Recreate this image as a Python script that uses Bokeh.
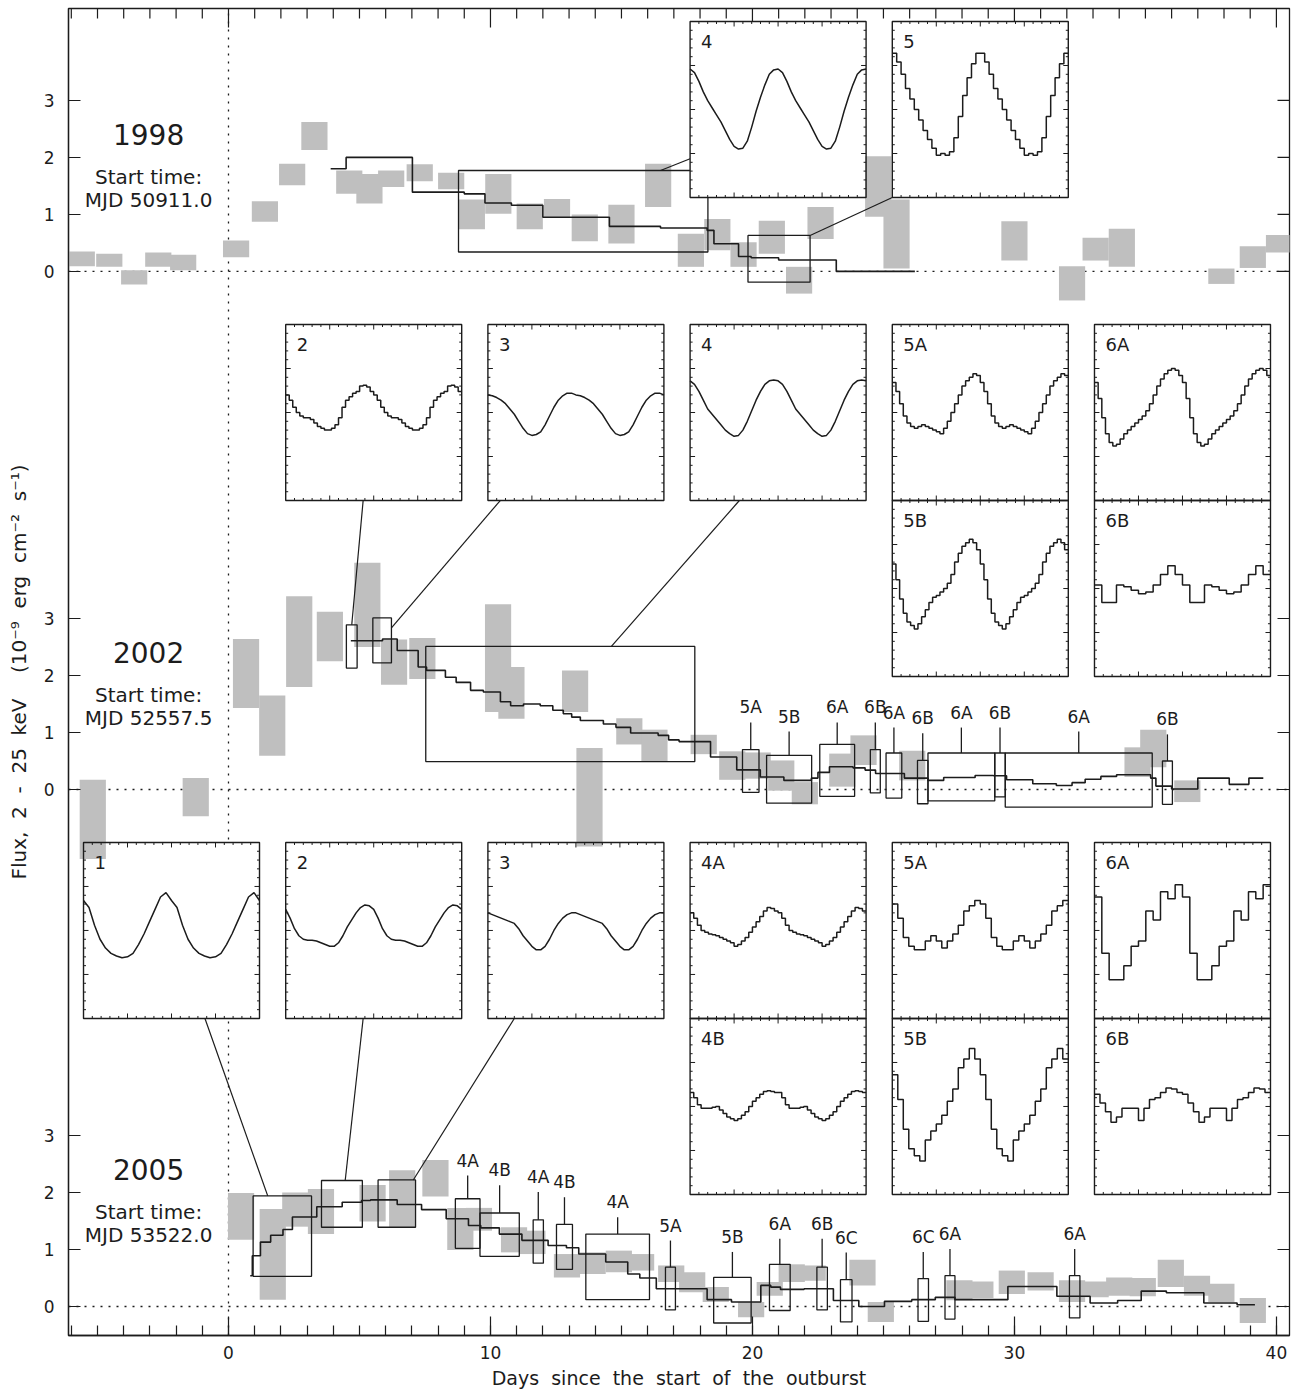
from bokeh.plotting import figure
from bokeh.models import Range1d, FixedTicker, CustomJSTickFormatter
from bokeh.embed import file_html
from bokeh.resources import INLINE
from bokeh.core.properties import value

# ---------------------------------------------------------------- data
year_labels = ["1998", "2002", "2005"]
start_mjd = ["MJD 50911.0", "MJD 52557.5", "MJD 53522.0"]
x_major_ticks = [0, 10, 20, 30, 40]
y_tick_labels = ["0", "1", "2", "3"]

# grey flux measurements (centre day, lower flux, upper flux)
bar98_t = [-5.6, -4.55, -3.6, -2.68, -1.73, 0.29, 1.39, 2.43, 3.28, 4.61, 5.38, 6.21, 7.3, 8.5, 9.29,
           10.3, 11.5, 12.54, 13.6, 15.0, 16.4, 17.65, 18.66, 19.66, 20.74, 21.78, 22.6, 24.8, 25.5,
           30.0, 32.2, 33.1, 34.1, 37.9, 39.1, 40.1]
bar98_lo = [0.09, 0.08, -0.23, 0.08, 0.02, 0.25, 0.87, 1.51, 2.13, 1.36, 1.19, 1.48, 1.58, 1.44, 0.74,
            1.01, 0.74, 0.95, 0.53, 0.49, 1.13, 0.08, 0.37, 0.08, 0.31, -0.39, 0.57, 0.96, 0.05,
            0.19, -0.51, 0.19, 0.08, -0.22, 0.06, 0.33]
bar98_hi = [0.35, 0.31, 0.02, 0.33, 0.29, 0.54, 1.23, 1.89, 2.62, 1.77, 1.71, 1.77, 1.88, 1.73, 1.26,
            1.71, 1.19, 1.27, 1.00, 1.17, 1.89, 0.66, 0.92, 0.51, 0.89, 0.08, 1.13, 2.02, 1.26,
            0.88, 0.09, 0.59, 0.75, 0.05, 0.44, 0.64]

bar02_t = [-5.18, -1.25, 0.67, 1.67, 2.7, 3.87, 5.3, 6.32, 7.4, 10.29, 10.8, 13.23, 13.78, 15.3, 16.26,
           18.14, 19.23, 20.2, 21.1, 22.0, 23.43, 24.24, 26.1, 34.7, 35.3, 36.6]
bar02_lo = [-1.22, -0.47, 1.43, 0.59, 1.80, 2.25, 2.50, 1.84, 1.94, 1.36, 1.24, 1.36, -1.0, 0.79, 0.50,
            0.62, 0.17, 0.19, -0.02, -0.26, 0.05, 0.43, 0.16, 0.22, 0.39, -0.22]
bar02_hi = [0.17, 0.20, 2.64, 1.65, 3.39, 3.12, 3.98, 2.63, 2.66, 3.25, 2.15, 2.09, 0.73, 1.25, 1.05,
            0.96, 0.67, 0.65, 0.51, 0.13, 0.63, 0.95, 0.68, 0.74, 1.05, 0.16]

bar05_t = [0.48, 1.69, 2.55, 3.53, 5.5, 6.63, 7.9, 8.85, 9.56, 10.9, 11.6, 12.92, 13.9, 14.9, 15.75,
           16.9, 17.7, 18.6, 19.95, 20.66, 21.5, 22.3, 24.2, 24.9, 27.9, 28.7, 29.9, 31.0, 32.2, 33.1,
           34.0, 34.9, 35.97, 36.97, 37.9, 39.1]
bar05_lo = [1.17, 0.12, 1.40, 1.27, 1.49, 1.39, 1.93, 0.99, 1.33, 0.95, 0.92, 0.51, 0.57, 0.60, 0.63,
            0.43, 0.25, 0.08, -0.19, 0.19, 0.43, 0.45, 0.37, -0.27, 0.11, 0.15, 0.22, 0.28, 0.08, 0.16,
            0.19, 0.18, 0.34, 0.19, 0.08, -0.29]
bar05_hi = [1.99, 1.71, 2.00, 2.06, 2.13, 2.39, 2.57, 1.73, 1.73, 1.39, 1.33, 0.92, 0.95, 0.98, 0.92,
            0.72, 0.60, 0.34, 0.08, 0.43, 0.74, 0.72, 0.82, 0.08, 0.46, 0.44, 0.63, 0.60, 0.46, 0.44,
            0.51, 0.50, 0.82, 0.54, 0.40, 0.15]

# black step curves (segment start day, flux) and end day
step98_t = [3.9, 4.49, 7.02, 9.0, 9.79, 10.8, 12.0, 14.54, 16.49, 18.27, 18.53, 19.47, 19.95, 21.0, 23.2]
step98_f = [1.80, 2.00, 1.39, 1.36, 1.20, 1.16, 0.95, 0.79, 0.76, 0.72, 0.485, 0.26, 0.24, 0.20, 0.0]
step98_end = 26.2

step02_t = [4.67, 5.88, 6.44, 7.24, 7.56, 8.28, 8.69, 9.24, 9.73, 10.38, 10.77, 11.26, 11.9, 12.38,
            12.78, 13.1, 13.43, 14.31, 14.79, 15.35, 16.4, 16.8, 17.2, 18.4, 19.4, 20.3, 21.2, 22.25,
            22.5, 22.94, 23.84, 24.3, 24.7, 25.8, 26.7, 27.3, 28.5, 29.2, 29.7, 30.7, 31.6, 32.2, 32.7,
            33.3, 33.9, 35.2, 35.4, 36.0, 37.0, 38.2, 38.95]
step02_f = [2.61, 2.64, 2.44, 2.15, 2.09, 1.97, 1.88, 1.74, 1.71, 1.54, 1.47, 1.50, 1.47, 1.39,
            1.33, 1.27, 1.21, 1.15, 1.09, 0.99, 0.95, 0.87, 0.84, 0.57, 0.345, 0.22, 0.16, 0.20,
            0.30, 0.40, 0.38, 0.34, 0.28, 0.20, 0.16, 0.21, 0.245, 0.24, 0.17, 0.10, 0.07, 0.12, 0.18,
            0.23, 0.26, 0.20, 0.06, 0.01, 0.20, 0.09, 0.20]
step02_end = 39.5

step05_t = [0.83, 0.91, 1.22, 1.61, 2.08, 2.44, 3.37, 4.34, 5.08, 5.42, 6.44, 7.37, 8.31, 9.16, 9.63,
            10.34, 11.2, 12.2, 12.9, 13.37, 14.4, 15.24, 15.7, 16.33, 18.27, 19.2, 20.32, 20.7, 21.07,
            21.97, 23.09, 24.06, 25.04, 26.08, 26.98, 27.73, 29.75, 31.62, 32.89, 33.94, 34.84, 35.8,
            37.23, 38.5]
step05_f = [0.54, 0.89, 1.13, 1.25, 1.35, 1.57, 1.75, 1.83, 1.86, 1.87, 1.79, 1.70, 1.54, 1.42, 1.38,
            1.27, 1.16, 1.07, 1.03, 0.92, 0.78, 0.57, 0.50, 0.31, 0.12, 0.08, 0.37, 0.34, 0.30,
            0.31, 0.105, 0.0, 0.09, 0.12, 0.16, 0.12, 0.35, 0.18, 0.06, 0.105, 0.27, 0.24,
            0.06, 0.03]
step05_end = 39.18

# selected intervals shown as open boxes (start, end, flux low, flux high)
sel98 = [(8.78, 18.3, 0.34, 1.77), (19.83, 22.2, -0.19, 0.63)]
sel02 = [(4.5, 4.91, 2.13, 2.89), (5.51, 6.22, 2.22, 3.01), (7.53, 17.8, 0.49, 2.51)]
sel05 = [(0.94, 3.17, 0.53, 1.94), (3.55, 5.11, 1.39, 2.21), (5.71, 7.14, 1.39, 2.22)]

lab02_t0 = [19.62, 20.54, 22.57, 24.5, 25.1, 26.3, 26.7, 29.25, 29.65, 35.65]
lab02_t1 = [20.25, 22.26, 23.9, 24.88, 25.7, 26.7, 29.25, 29.65, 35.26, 36.03]
lab02_lo = [-0.05, -0.24, -0.12, -0.06, -0.15, -0.25, -0.20, -0.13, -0.31, -0.26]
lab02_hi = [0.70, 0.60, 0.79, 0.70, 0.64, 0.51, 0.64, 0.64, 0.64, 0.50]
lab02_text = ["5A", "5B", "6A", "6B", "6A", "6B", "6A", "6B", "6A", "6B"]
lab02_y = [1.44, 1.28, 1.44, 1.44, 1.35, 1.25, 1.35, 1.35, 1.28, 1.23]

lab05_t0 = [8.66, 9.6, 11.63, 12.52, 13.64, 16.68, 18.52, 20.65, 22.46, 23.36, 26.32, 27.35, 32.1]
lab05_t1 = [9.6, 11.1, 12.02, 13.13, 16.07, 17.06, 19.95, 21.44, 22.86, 23.8, 26.72, 27.73, 32.5]
lab05_lo = [1.02, 0.88, 0.76, 0.65, 0.12, -0.06, -0.29, -0.07, -0.06, -0.27, -0.26, -0.22, -0.20]
lab05_hi = [1.89, 1.64, 1.52, 1.44, 1.27, 0.69, 0.51, 0.74, 0.69, 0.47, 0.49, 0.54, 0.54]
lab05_text = ["4A", "4B", "4A", "4B", "4A", "5A", "5B", "6A", "6B", "6C", "6C", "6A", "6A"]
lab05_y = [2.56, 2.39, 2.27, 2.18, 1.83, 1.42, 1.22, 1.45, 1.45, 1.21, 1.22, 1.27, 1.27]

# pulse profiles, one cycle each (relative intensity, 0 = inset bottom, 1 = inset top)
P98_4 = [0.73, 0.71, 0.66, 0.60, 0.55, 0.51, 0.47, 0.43, 0.38, 0.33, 0.29, 0.275, 0.28, 0.32, 0.40,
         0.49, 0.57, 0.64, 0.70, 0.725]
P98_5 = [0.82, 0.77, 0.70, 0.62, 0.56, 0.50, 0.44, 0.38, 0.33, 0.28, 0.24, 0.25, 0.24, 0.26, 0.34,
         0.46, 0.58, 0.68, 0.76, 0.82]
P02_2 = [0.60, 0.57, 0.53, 0.50, 0.48, 0.47, 0.47, 0.46, 0.44, 0.42, 0.41, 0.40, 0.40, 0.41, 0.43,
         0.47, 0.53, 0.57, 0.59, 0.61, 0.62, 0.65, 0.655, 0.645, 0.62]
P02_3 = [0.60, 0.595, 0.585, 0.57, 0.55, 0.52, 0.49, 0.45, 0.41, 0.38, 0.37, 0.375, 0.39, 0.43, 0.48,
         0.53, 0.57, 0.595, 0.61, 0.61]
P02_4 = [0.68, 0.66, 0.62, 0.57, 0.52, 0.49, 0.46, 0.43, 0.40, 0.38, 0.365, 0.37, 0.40, 0.45, 0.51,
         0.57, 0.62, 0.66, 0.68, 0.685]
P02_5A = [0.67, 0.62, 0.55, 0.48, 0.44, 0.42, 0.41, 0.42, 0.43, 0.42, 0.41, 0.40, 0.39, 0.38, 0.41,
          0.45, 0.50, 0.55, 0.60, 0.65, 0.68, 0.70, 0.72, 0.71]
P02_6A = [0.67, 0.58, 0.47, 0.38, 0.33, 0.31, 0.32, 0.35, 0.38, 0.40, 0.42, 0.44, 0.46, 0.48, 0.51,
          0.55, 0.60, 0.65, 0.69, 0.72, 0.74, 0.75, 0.74, 0.71]
P02_5B = [0.64, 0.55, 0.44, 0.36, 0.31, 0.29, 0.27, 0.30, 0.34, 0.38, 0.42, 0.45, 0.46, 0.48, 0.50,
          0.53, 0.58, 0.65, 0.70, 0.74, 0.76, 0.78, 0.76, 0.72]
P02_6B = [0.52, 0.42, 0.42, 0.52, 0.51, 0.49, 0.47, 0.48, 0.52, 0.58, 0.63, 0.58]
P05_1 = [0.67, 0.63, 0.53, 0.45, 0.40, 0.37, 0.355, 0.345, 0.35, 0.37, 0.42, 0.48, 0.55, 0.62, 0.69, 0.715]
P05_2 = [0.62, 0.57, 0.51, 0.47, 0.45, 0.445, 0.445, 0.44, 0.43, 0.42, 0.41, 0.41, 0.43, 0.47, 0.52,
         0.56, 0.60, 0.63, 0.645, 0.64]
P05_3 = [0.60, 0.59, 0.58, 0.57, 0.56, 0.55, 0.54, 0.51, 0.47, 0.44, 0.41, 0.39, 0.39, 0.41, 0.45,
         0.50, 0.54, 0.57, 0.59, 0.60]
P05_4A = [0.60, 0.57, 0.53, 0.50, 0.49, 0.48, 0.475, 0.47, 0.46, 0.45, 0.44, 0.43, 0.41, 0.42, 0.44,
          0.46, 0.49, 0.52, 0.55, 0.58, 0.61, 0.63, 0.625, 0.61]
P05_4B = [0.58, 0.55, 0.51, 0.49, 0.49, 0.49, 0.495, 0.50, 0.48, 0.46, 0.44, 0.43, 0.42, 0.43, 0.45,
          0.47, 0.50, 0.53, 0.55, 0.57, 0.585, 0.59, 0.585, 0.58]
P05_5A = [0.65, 0.57, 0.46, 0.41, 0.39, 0.39, 0.44, 0.47, 0.44, 0.40, 0.44, 0.48, 0.53, 0.61, 0.64, 0.67]
P05_6A = [0.69, 0.37, 0.22, 0.22, 0.30, 0.41, 0.44, 0.61, 0.56, 0.72, 0.68, 0.76]
P05_5B = [0.68, 0.54, 0.37, 0.26, 0.22, 0.19, 0.31, 0.36, 0.40, 0.45, 0.53, 0.60, 0.72, 0.77, 0.83, 0.77]
P05_6B = [0.57, 0.52, 0.47, 0.41, 0.44, 0.49, 0.49, 0.49, 0.42, 0.49, 0.54, 0.55, 0.58, 0.605, 0.60, 0.58]

# ---------------------------------------------------------------- layout / style
FONT = "DejaVu Sans"
INK = "#1c1c1c"
GREY = "#bfbfbf"
OFF = {"1998": 18.16, "2002": 9.07, "2005": 0.0}
GAP = " \u00a0"   # wide word gap, as in the original lettering

X0, X1 = -6.107, 40.50
Y0, Y1 = -0.509, 22.772
FW, FH = 1221, 1327
PX = (X1 - X0) / FW      # days per screen pixel
PY = (Y1 - Y0) / FH      # flux units per screen pixel

COLS = [-5.534 + 7.718 * i for i in range(6)]
IW, IH = 6.718, 3.088
ROWS = {"98": 19.456, "02a": 14.14, "02b": 11.052, "05a": 5.053, "05b": 1.965}

insets = [
    ("4", 3, "98", P98_4, "line"), ("5", 4, "98", P98_5, "step"),
    ("2", 1, "02a", P02_2, "step"), ("3", 2, "02a", P02_3, "line"), ("4", 3, "02a", P02_4, "line"),
    ("5A", 4, "02a", P02_5A, "step"), ("6A", 5, "02a", P02_6A, "step"),
    ("5B", 4, "02b", P02_5B, "step"), ("6B", 5, "02b", P02_6B, "step"),
    ("1", 0, "05a", P05_1, "line"), ("2", 1, "05a", P05_2, "line"), ("3", 2, "05a", P05_3, "line"),
    ("4A", 3, "05a", P05_4A, "step"), ("5A", 4, "05a", P05_5A, "step"), ("6A", 5, "05a", P05_6A, "step"),
    ("4B", 3, "05b", P05_4B, "step"), ("5B", 4, "05b", P05_5B, "step"), ("6B", 5, "05b", P05_6B, "step"),
]

connectors = [
    ("1998", sel98[0], (3, "98"), (0.0, 0.22), (0.81, 1.0)),
    ("1998", sel98[1], (4, "98"), (0.0, 0.0), (1.0, 1.0)),
    ("2002", sel02[0], (1, "02a"), (0.44, 0.0), (0.5, 1.0)),
    ("2002", sel02[1], (2, "02a"), (0.07, 0.0), (1.0, 0.78)),
    ("2002", sel02[2], (3, "02a"), (0.28, 0.0), (0.69, 1.0)),
    ("2005", sel05[0], (0, "05a"), (0.69, 0.0), (0.25, 1.0)),
    ("2005", sel05[1], (1, "05a"), (0.44, 0.0), (0.58, 1.0)),
    ("2005", sel05[2], (2, "05a"), (0.15, 0.0), (0.94, 1.0)),
]

xlabel = GAP.join(["Days", "since", "the", "start", "of", "the", "outburst"])
ylabel = GAP.join(["Flux,", "2", "-", "25", "keV", "", "(10\u207b\u2079", "erg", "cm\u207b\u00b2",
                   "s\u207b\u00b9)"])

p = figure(width=1295, height=1396, x_range=Range1d(X0, X1), y_range=Range1d(Y0, Y1),
           output_backend="svg", toolbar_location=None,
           min_border_left=68, min_border_right=6, min_border_top=8, min_border_bottom=61,
           x_axis_label=xlabel, y_axis_label=ylabel)
p.grid.visible = False
p.outline_line_color = INK
p.outline_line_width = 1.3
p.background_fill_color = "white"
p.border_fill_color = "white"

minor_days = list(range(-6, 41))
xticker = FixedTicker(ticks=x_major_ticks, minor_ticks=minor_days)
yticks = sorted(OFF[y] + i for y in year_labels for i in range(len(y_tick_labels)))
yticker = FixedTicker(ticks=yticks, minor_ticks=[])
yfmt = CustomJSTickFormatter(code="""
const offs = [%s];
for (const o of offs) {
  const v = tick - o;
  const r = Math.round(v);
  if (Math.abs(v - r) < 1e-6 && r >= 0 && r <= 3) return String(r);
}
return "";
""" % ", ".join(str(OFF[y]) for y in year_labels))

def style_axis(ax, major, minor):
    ax.major_tick_in = major
    ax.major_tick_out = 0
    ax.minor_tick_in = minor
    ax.minor_tick_out = 0
    ax.axis_line_color = INK
    ax.axis_line_width = 1.3
    ax.major_tick_line_color = INK
    ax.minor_tick_line_color = INK
    ax.major_tick_line_width = 1.2
    ax.minor_tick_line_width = 1.2
    ax.major_label_text_font = FONT
    ax.major_label_text_color = INK
    ax.axis_label_text_font = FONT
    ax.axis_label_text_font_style = "normal"
    ax.axis_label_text_color = INK

xa = p.xaxis[0]
xa.ticker = xticker
style_axis(xa, 19, 10)
xa.major_label_text_font_size = "17px"
xa.major_label_standoff = 10
xa.axis_label_text_font_size = "19px"
xa.axis_label_standoff = 5

ya = p.yaxis[0]
ya.ticker = yticker
ya.formatter = yfmt
style_axis(ya, 12, 0)
ya.major_label_text_font_size = "17px"
ya.major_label_standoff = 14
ya.axis_label_text_font_size = "20px"
ya.axis_label_standoff = 10

# inward ticks on the top and right frame edges
kx0, ky0, kx1, ky1 = [], [], [], []
for d in minor_days:
    L = 19 if d in x_major_ticks else 10
    kx0.append(d); kx1.append(d); ky0.append(Y1); ky1.append(Y1 - L * PY)
for t in yticks:
    kx0.append(X1); kx1.append(X1 - 12 * PX); ky0.append(t); ky1.append(t)
p.segment(x0=kx0, y0=ky0, x1=kx1, y1=ky1, line_color=INK, line_width=1.2)

# dotted reference lines
p.segment(x0=[0], y0=[Y0], x1=[0], y1=[Y1], line_color=INK, line_width=1.3, line_dash="2 6")
p.segment(x0=[X0] * 3, y0=[OFF[y] for y in year_labels], x1=[X1] * 3, y1=[OFF[y] for y in year_labels],
          line_color=INK, line_width=1.3, line_dash="2 6")

# grey measurement bars
BAR_W = 1.0
bars = []
for yr, tt, lo, hi in [("1998", bar98_t, bar98_lo, bar98_hi), ("2002", bar02_t, bar02_lo, bar02_hi),
                       ("2005", bar05_t, bar05_lo, bar05_hi)]:
    o = OFF[yr]
    for t, a, b in zip(tt, lo, hi):
        bars.append((t - BAR_W / 2, t + BAR_W / 2, o + a, o + b))
p.quad(left=[b[0] for b in bars], right=[b[1] for b in bars], bottom=[b[2] for b in bars],
       top=[b[3] for b in bars], fill_color=GREY, line_color=None)

# step curves
for yr, tt, ff, te in [("1998", step98_t, step98_f, step98_end), ("2002", step02_t, step02_f, step02_end),
                       ("2005", step05_t, step05_f, step05_end)]:
    o = OFF[yr]
    p.step(x=tt + [te], y=[o + f for f in ff] + [o + ff[-1]], mode="after", line_color=INK, line_width=1.6)

# selection boxes
bl, br, bb, bt = [], [], [], []
for yr, sel in [("1998", sel98), ("2002", sel02), ("2005", sel05)]:
    for (a, b, lo, hi) in sel:
        bl.append(a); br.append(b); bb.append(OFF[yr] + lo); bt.append(OFF[yr] + hi)
stx, sty0, sty1, lx, ly, lt = [], [], [], [], [], []
for yr, t0, t1, lo, hi, tx, yy in [("2002", lab02_t0, lab02_t1, lab02_lo, lab02_hi, lab02_text, lab02_y),
                                    ("2005", lab05_t0, lab05_t1, lab05_lo, lab05_hi, lab05_text, lab05_y)]:
    o = OFF[yr]
    for a, b, lo, hi, s, y in zip(t0, t1, lo, hi, tx, yy):
        bl.append(a); br.append(b); bb.append(o + lo); bt.append(o + hi)
        stx.append((a + b) / 2); sty0.append(o + hi); sty1.append(o + y - 15 * PY)
        lx.append((a + b) / 2); ly.append(o + y); lt.append(s)
p.quad(left=bl, right=br, bottom=bb, top=bt, fill_color=None, line_color=INK, line_width=1.3)
p.segment(x0=stx, y0=sty0, x1=stx, y1=sty1, line_color=INK, line_width=1.3)
p.text(x=lx, y=ly, text=lt, text_font=value(FONT), text_font_size="17px", text_color=INK,
       text_align="center", text_baseline="middle")

# connectors from boxes to insets
cx0, cy0, cx1, cy1 = [], [], [], []
for yr, (a, b, lo, hi), (col, row), (ifx, ify), (bfx, bfy) in connectors:
    o = OFF[yr]
    cx0.append(a + (b - a) * bfx); cy0.append(o + lo + (hi - lo) * bfy)
    cx1.append(COLS[col] + IW * ifx); cy1.append(ROWS[row] + IH * ify)
p.segment(x0=cx0, y0=cy0, x1=cx1, y1=cy1, line_color=INK, line_width=1.2)

# inset panels
rects = [(COLS[c], COLS[c] + IW, ROWS[r], ROWS[r] + IH) for (_, c, r, _, _) in insets]
p.quad(left=[r[0] for r in rects], right=[r[1] for r in rects], bottom=[r[2] for r in rects],
       top=[r[3] for r in rects], fill_color="white", line_color=None)
# parts of grey bars that lie over inset panels
gl, gr, gb, gt = [], [], [], []
for (x0, x1, y0, y1) in rects:
    for (a, b, lo, hi) in bars:
        l, r_, bo, to = max(a, x0), min(b, x1), max(lo, y0), min(hi, y1)
        if l < r_ and bo < to:
            gl.append(l); gr.append(r_); gb.append(bo); gt.append(to)
if gl:
    p.quad(left=gl, right=gr, bottom=gb, top=gt, fill_color=GREY, line_color=None)
p.quad(left=[r[0] for r in rects], right=[r[1] for r in rects], bottom=[r[2] for r in rects],
       top=[r[3] for r in rects], fill_color=None, line_color=INK, line_width=1.4)

tx0, ty0, tx1, ty1 = [], [], [], []
for (x0, x1, y0, y1) in rects:
    for k in range(1, 20):
        L = 5.0 if k % 5 == 0 else 2.5
        xx = x0 + (x1 - x0) * k / 20
        tx0 += [xx, xx]; tx1 += [xx, xx]; ty0 += [y0, y1]; ty1 += [y0 + L * PY, y1 - L * PY]
        yy = y0 + (y1 - y0) * k / 20
        tx0 += [x0, x1]; tx1 += [x0 + L * PX, x1 - L * PX]; ty0 += [yy, yy]; ty1 += [yy, yy]
p.segment(x0=tx0, y0=ty0, x1=tx1, y1=ty1, line_color=INK, line_width=1.0)

mxs, mys = [], []
for (lab, c, r, prof, kind), (x0, x1, y0, y1) in zip(insets, rects):
    n = len(prof)
    xs, ys = [], []
    if kind == "line":
        for k in range(2 * n + 1):
            xs.append(x0 + (x1 - x0) * k / (2 * n))
            ys.append(y0 + (y1 - y0) * prof[k % n])
    else:
        for k in range(2 * n):
            v = y0 + (y1 - y0) * prof[k % n]
            xs += [x0 + (x1 - x0) * k / (2 * n), x0 + (x1 - x0) * (k + 1) / (2 * n)]
            ys += [v, v]
    mxs.append(xs); mys.append(ys)
p.multi_line(xs=mxs, ys=mys, line_color=INK, line_width=1.5)

p.text(x=[r[0] + 11 * PX for r in rects], y=[r[3] - 20 * PY for r in rects],
       text=[i[0] for i in insets], text_font=value(FONT), text_font_size="18px", text_color=INK,
       text_align="left", text_baseline="middle")

# year / start time labels
xc = -3.05
p.text(x=[xc] * 3, y=[OFF[y] + 2.41 for y in year_labels], text=year_labels, text_font=value(FONT),
       text_font_size="28px", text_color=INK, text_align="center", text_baseline="middle")
p.text(x=[xc] * 3, y=[OFF[y] + 1.66 for y in year_labels], text=["Start time:"] * 3,
       text_font=value(FONT), text_font_size="20px", text_color=INK, text_align="center",
       text_baseline="middle")
p.text(x=[xc] * 3, y=[OFF[y] + 1.25 for y in year_labels], text=start_mjd, text_font=value(FONT),
       text_font_size="20px", text_color=INK, text_align="center", text_baseline="middle")

open("out.html", "w").write(file_html(p, INLINE, title="Outburst light curves"))
